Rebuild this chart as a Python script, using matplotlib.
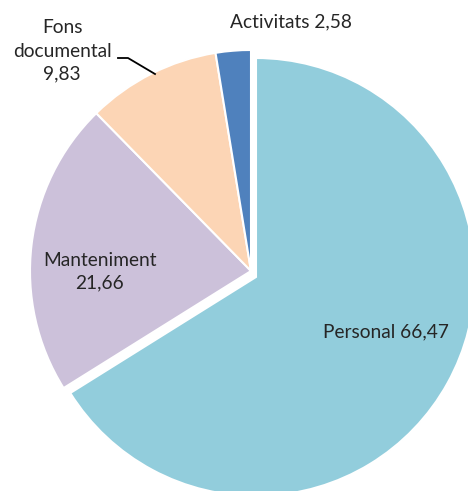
import matplotlib.pyplot as plt

# Data
categories = ["Personal", "Manteniment", "Fons documental", "Activitats"]
values = [66.47, 21.66, 9.83, 2.58]
colors = ["#92CDDC", "#CCC1DA", "#FCD5B5", "#4F81BD"]

W, H = 468, 491
fig = plt.figure(figsize=(W / 100, H / 100), dpi=100)
ax = fig.add_axes([0, 0, 1, 1])

wedges, _ = ax.pie(values, colors=colors, startangle=90,
                   counterclock=False, center=(251, H - 271), radius=221,
                   wedgeprops=dict(edgecolor="white", linewidth=1.5))
# pull the Personal slice out a little (down and right)
wedges[0].set_center((256, H - 277))
wedges[0].set_radius(219)

# pie() resets the limits, so set them afterwards
ax.set_xlim(0, W)
ax.set_ylim(0, H)
ax.set_aspect("equal")
ax.axis("off")


def fmt(v):
    return f"{v:.2f}".replace(".", ",")


font = dict(family="Lato", fontsize=13.8, color="#262626",
            ha="center", va="center")

# label positions in pixel coords (from top)
ax.text(386, H - 332, f"{categories[0]} {fmt(values[0])}", **font)
ax.text(100, H - 272, f"{categories[1]}\n{fmt(values[1])}",
        linespacing=1.4, **font)
ax.text(62, H - 51, "Fons\ndocumental\n" + fmt(values[2]),
        linespacing=1.45, **font)
ax.text(291, H - 22, f"{categories[3]} {fmt(values[3])}", **font)

# leader line for Fons documental
ax.plot([118, 128, 155], [H - 58, H - 58, H - 74], color="black", lw=1.3)

fig.savefig("out.png", dpi=100)
